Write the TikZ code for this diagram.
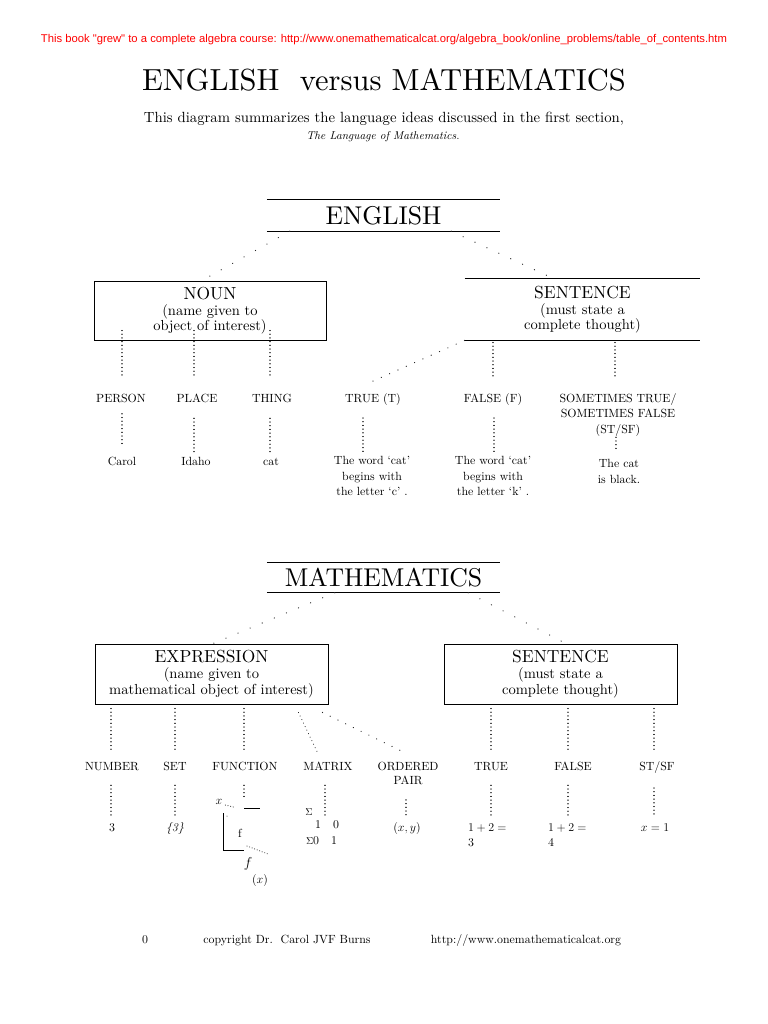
\documentclass[tikz,border=0pt]{standalone}
\usepackage{fontspec}
\setmainfont{lmroman10-regular.otf}[ItalicFont=lmroman10-italic.otf, BoldFont=lmroman10-bold.otf]
\newfontfamily\redsansfam{Liberation Sans}
\usetikzlibrary{calc}
\newcommand\fntred{\redsansfam\fontsize{11.3}{14}\selectfont}
\newcommand\fnttitle{\fontsize{30.6}{36}\selectfont}
\newcommand\fntsubt{\fontsize{14.8}{17}\selectfont}
\newcommand\fntital{\fontsize{11.4}{13}\selectfont\itshape}
\newcommand\fnthead{\fontsize{25.8}{30}\selectfont}
\newcommand\fntbox{\fontsize{17.5}{20}\selectfont}
\newcommand\fntsub{\fontsize{14.6}{14}\selectfont}
\newcommand\fntlbl{\fontsize{11.9}{15.5}\selectfont}
\newcommand\fntsml{\fontsize{10}{10}\selectfont}
\begin{document}
\begin{tikzpicture}[x=1bp,y=-1bp,
  txt/.style={inner sep=0pt, outer sep=0pt},
  lbl/.style={txt, font=\fntlbl, anchor=base},
  mlbl/.style={txt, font=\fntlbl, align=center, anchor=north},
  boxnode/.style={draw, line width=0.9bp, minimum width=233bp, minimum height=60bp, inner sep=0pt, align=center, font=\fntsub},
  headnode/.style={inner sep=0pt, minimum width=233bp, minimum height=31bp, font=\fnthead},
  rul/.style={line width=1bp},
  vdot/.style={line width=1.2bp, line cap=round, dash pattern=on 0.1bp off 3.6bp, black!85},
  sdot/.style={line width=1.2bp, line cap=round, dash pattern=on 0.1bp off 13bp, black!85},
  mdot/.style={line width=1.2bp, line cap=round, dash pattern=on 0.1bp off 8.5bp, black!85},
  ddot/.style={line width=1bp, line cap=round, dash pattern=on 0.1bp off 2.6bp, black!85}
]
\fill[white] (0,0) rectangle (768,1024);
\useasboundingbox (0,0) rectangle (768,1024);

% header
\node[txt, font=\fntred, text=red] (hdr) at (384,40) {This book "grew" to a complete algebra course: http://www.onemathematicalcat.org/algebra\_book/online\_problems/table\_of\_contents.htm};
\node[txt, font=\fnttitle] (title) at (384,80) {ENGLISH\ \ versus MATHEMATICS};
\node[txt, font=\fntsubt] (subt) at (384,119) {This diagram summarizes the language ideas discussed in the first section,};
\node[txt, font=\fntital] (ital) at (383,137) {The Language of Mathematics.};

% ===== ENGLISH =====
\node[headnode] (eng) at (383.5,215.5) {ENGLISH};
\draw[rul] (eng.north west) -- (eng.north east) (eng.south west) -- (eng.south east);

\node[boxnode, minimum width=232bp, minimum height=59bp] (noun) at (210,310.5) {{\fntbox NOUN}\\[2bp](name given to\\object of interest)};
\node[boxnode, draw=none, minimum width=235bp, minimum height=61bp] (esent) at (582.5,309.5) {{\fntbox SENTENCE}\\[2bp](must state a\\complete thought)};
\draw[rul] (esent.north west) -- (esent.north east) (esent.south west) -- (esent.south east);

\draw[sdot] ($(eng.south west)+(23,0)$) -- ($(noun.north)+(-8,0)$);
\draw[sdot] ($(eng.south east)+(-49,0)$) -- ($(esent.north west)+(89,0)$);

\node[lbl] (person) at (121,402.5) {PERSON};
\node[lbl] (place) at (197,402.5) {PLACE};
\node[lbl] (thing) at (272,402.5) {THING};
\node[lbl] (tt) at (373,402.5) {TRUE (T)};
\node[lbl] (ff) at (493,402.5) {FALSE (F)};
\node[mlbl] (st) at (618,393.5) {SOMETIMES TRUE/\\SOMETIMES FALSE\\(ST/SF)};

\draw[vdot] ($(person.north |- noun.south)+(1,-10)$) -- ($(person.north)+(1,-16)$);
\draw[vdot] ($(place.north |- noun.south)+(-3,-10)$) -- ($(place.north)+(-3,-16)$);
\draw[vdot] ($(thing.north |- noun.south)+(-2,-10)$) -- ($(thing.north)+(-2,-16)$);
\draw[mdot, dash pattern=on 0.1bp off 9bp] (esent.south west) -- ($(tt.north)+(-8,-9)$);
\draw[vdot] ($(ff.north |- esent.south)+(0,2)$) -- ($(ff.north)+(0,-16)$);
\draw[vdot] ($(st.north |- esent.south)+(-3,2)$) -- ($(st.north)+(-3,-15)$);

\node[lbl] (carol) at (122,465) {Carol};
\node[lbl] (idaho) at (196,465) {Idaho};
\node[lbl] (catn) at (271,465) {cat};
\node[mlbl] (twc) at (372,456.5) {The word ‘cat’\\begins with\\the letter ‘c’ .};
\node[mlbl] (fwc) at (493,456.5) {The word ‘cat’\\begins with\\the letter ‘k’ .};
\node[mlbl] (stc) at (619,459.5) {The cat\\is black.};

\draw[vdot] ($(person.south)+(1,11)$) -- ($(carol.north)+(0,-10)$);
\draw[vdot] ($(place.south)+(-3,15.5)$) -- ($(idaho.north)+(-2,-4.7)$);
\draw[vdot] ($(thing.south)+(-2,15.5)$) -- ($(catn.north)+(-1,-5.6)$);
\draw[vdot] ($(tt.south)+(-10,12.5)$) -- ($(twc.north)+(-9,-4.5)$);
\draw[vdot] ($(ff.south)+(1,12.5)$) -- ($(fwc.north)+(1,-4.5)$);
\draw[vdot] ($(st.south)+(-2,1)$) -- ($(stc.north)+(-3,-9.5)$);

% ===== MATHEMATICS =====
\node[headnode, minimum height=30bp] (math) at (383.5,577.5) {MATHEMATICS};
\draw[rul] (math.north west) -- (math.north east) (math.south west) -- (math.south east);

\node[boxnode] (expr) at (211.5,674) {{\fntbox EXPRESSION}\\[2bp](name given to\\mathematical object of interest)};
\node[boxnode] (msent) at (560.5,674) {{\fntbox SENTENCE}\\[2bp](must state a\\complete thought)};

\draw[sdot] ($(math.south west)+(68,0)$) -- ($(expr.north)+(1.5,0)$);
\draw[sdot] ($(math.south east)+(-32,0)$) -- ($(msent.north)+(5.5,0)$);

\node[lbl] (number) at (112,770) {NUMBER};
\node[lbl] (set) at (175,770) {SET};
\node[lbl] (func) at (245,770) {FUNCTION};
\node[lbl] (matrix) at (328,770) {MATRIX};
\node[mlbl, font=\fontsize{11.9}{14.5}\selectfont] (opair) at (408,761.8) {ORDERED\\PAIR};
\node[lbl] (mtrue) at (491,770) {TRUE};
\node[lbl] (mfalse) at (573,770) {FALSE};
\node[lbl] (mst) at (657,770) {ST/SF};

\draw[vdot] ($(number.north |- expr.south)+(-1,4)$) -- ($(number.north)+(-1,-11.8)$);
\draw[vdot] ($(set.north |- expr.south)+(0,4)$) -- ($(set.north)+(0,-11.8)$);
\draw[vdot] ($(func.north |- expr.south)+(-1,4)$) -- ($(func.north)+(-1,-11.8)$);
\draw[ddot, dash pattern=on 0.1bp off 3.8bp] ($(expr.south east)+(-30,8)$) -- ($(matrix.north)+(-11,-10)$);
\draw[mdot] ($(expr.south east)+(-6,8)$) -- ($(opair.north)+(-5,-10)$);
\draw[vdot] ($(mtrue.north |- msent.south)+(0,4)$) -- ($(mtrue.north)+(0,-10)$);
\draw[vdot] ($(mfalse.north |- msent.south)+(-5,4)$) -- ($(mfalse.north)+(-5,-10)$);
\draw[vdot] ($(mst.north |- msent.south)+(-3,4)$) -- ($(mst.north)+(-3,-10)$);

\node[lbl] (three) at (112,831) {3};
\node[lbl] (setv) at (175,831) {\textit{\{3\}}};
\node[lbl] (xy) at (407,831) {$(x, y)$};
\node[txt, font=\fontsize{11.9}{16}\selectfont, align=left, anchor=north west] (t12) at (468,823.3) {$1+2=$\\3};
\node[txt, font=\fontsize{11.9}{16}\selectfont, align=left, anchor=north west] (f12) at (548,823.3) {$1+2=$\\4};
\node[lbl] (xeq) at (655,831) {$x=1$};

% matrix fragments
\node[txt, font=\fntsml] (msig) at (309,812) {$\Sigma$};
\node[lbl] (mr1) at (327,828) {1\hspace{12bp}0};
\node[txt, font=\fntlbl, anchor=base west] (mr2) at (306,844) {{\fntsml$\Sigma$}0\hspace{12bp}1};

% function fragments
\node[txt, font=\fntlbl] (fx) at (219,802) {$x$};
\coordinate (ftl) at (244,808);
\draw[rul] (ftl) -- ++(16,0);
\coordinate (fcorner) at (223,850);
\draw[rul] (223,813) -- (fcorner) -- ++(21,0);
\node[txt, font=\fntlbl] (fname) at (240,833) {f};
\node[txt, font=\fontsize{14}{14}\selectfont] (fit) at (248,864) {$f$};
\node[txt, font=\fntlbl] (fxarg) at (260,880) {$(x)$};
\draw[ddot] ($(fx.east)+(3,3)$) -- ($(fx.east)+(11,5)$);
\fill[black!85] (227,816) circle (0.5);
\draw[ddot] (247,846) -- (268,854);

\draw[vdot] ($(three.south |- number.south)+(-1,15)$) -- ($(three.north)+(-1,-6.3)$);
\draw[vdot] ($(setv.south |- set.south)+(0,15)$) -- ($(setv.north)+(0,-5)$);
\draw[vdot] ($(func.south)+(-1,15)$) -- ($(ftl)+(0,-8)$);
\draw[vdot] ($(matrix.south)+(-3,15)$) -- ($(mr1.north)+(-2,-5)$);
\draw[vdot] ($(opair.south)+(-2,15)$) -- ($(xy.north)+(-1,-7)$);
\draw[vdot] ($(mtrue.south)+(0,15)$) -- ($(mtrue.south |- t12.north)+(0,-6)$);
\draw[vdot] ($(mfalse.south)+(-5,15)$) -- ($(mfalse.south |- f12.north)+(-5,-6)$);
\draw[vdot] ($(mst.south)+(-3,15)$) -- ($(xeq.north)+(-1,-6)$);

% footer
\node[lbl] (pg) at (145,943) {0};
\node[lbl] (copy) at (287,943) {copyright Dr.\ \ Carol JVF Burns};
\node[lbl] (url) at (526,943) {http://www.onemathematicalcat.org};
\end{tikzpicture}
\end{document}
